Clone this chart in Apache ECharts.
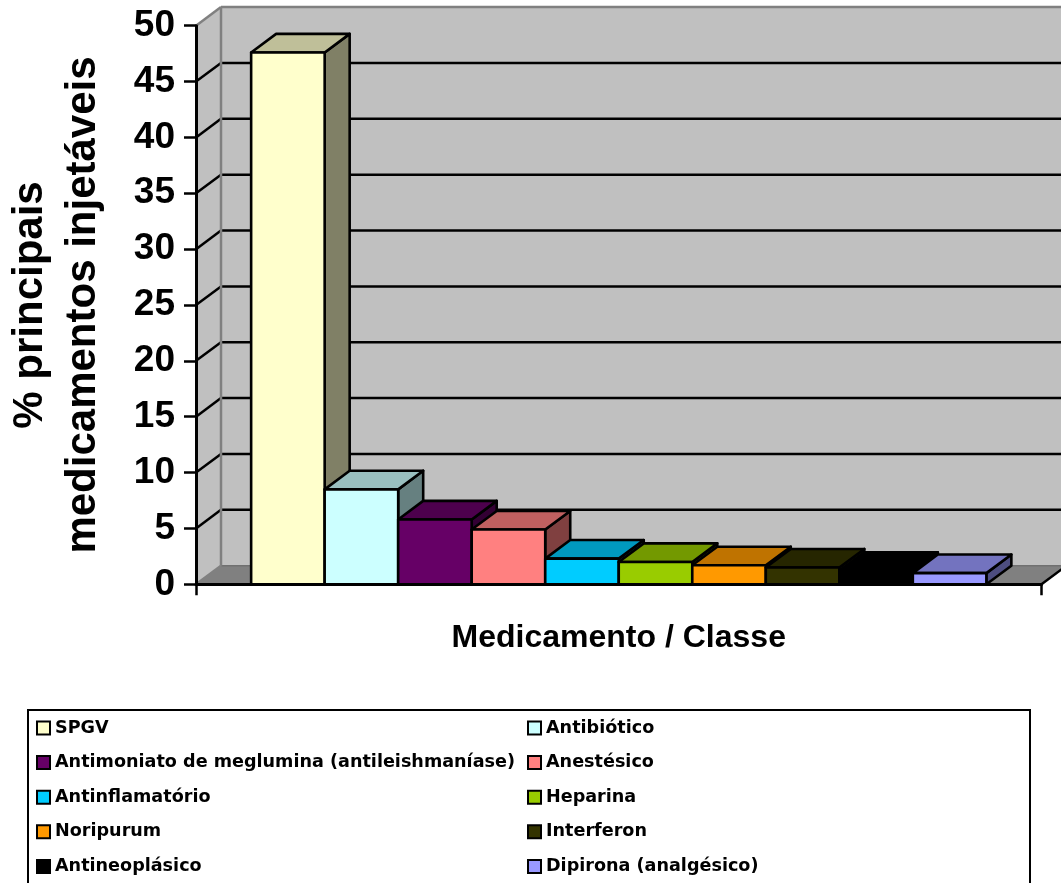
<!DOCTYPE html>
<html>
<head>
<meta charset="utf-8">
<script src="https://cdn.jsdelivr.net/npm/echarts@6/dist/echarts.min.js"></script>
<style>
  html, body { margin: 0; padding: 0; background: #ffffff; }
  #chart { width: 1061px; height: 883px; }
</style>
</head>
<body>
<div id="chart"></div>
<script>
// Injectable medicines by drug / class (% of main injectables)
const names = [
  'SPGV',
  'Antibiótico',
  'Antimoniato de meglumina (antileishmaníase)',
  'Anestésico',
  'Antinflamatório',
  'Heparina',
  'Noripurum',
  'Interferon',
  'Antineoplásico',
  'Dipirona (analgésico)'
];
const values = [47.6, 8.5, 5.8, 4.9, 2.3, 2.0, 1.7, 1.5, 1.2, 1.0];
const colors = ['#FFFFCC', '#CCFFFF', '#660066', '#FF8080', '#00CCFF',
                '#99CC00', '#FF9900', '#333300', '#000000', '#9999FF'];
const yTicks = [0, 5, 10, 15, 20, 25, 30, 35, 40, 45, 50];
const categories = [''];
const legendLeft = [0, 2, 4, 6, 8].map(i => names[i]);
const legendRight = [1, 3, 5, 7, 9].map(i => names[i]);

// 3D look: depth offset of the plot box in pixels, and gap between bar cluster and axis ends
const DEPTH = [25, -18.6];
const GAP = 1.5;
const FONT = '"Liberation Sans", Arial, sans-serif';

function shade(hex, k) {
  const n = parseInt(hex.slice(1), 16);
  const r = Math.round(((n >> 16) & 255) * k);
  const g = Math.round(((n >> 8) & 255) * k);
  const b = Math.round((n & 255) * k);
  return 'rgb(' + r + ',' + g + ',' + b + ')';
}

// Walls, floor and gridlines of the 3D box
function renderWalls(params, api) {
  const cs = params.coordSys;
  const [dx, dy] = DEPTH;
  const left = cs.x, right = cs.x + cs.width;
  const yTop = api.coord([0, yTicks[yTicks.length - 1]])[1];
  const yBase = api.coord([0, yTicks[0]])[1];
  const children = [];
  // back wall
  children.push({ type: 'polygon', shape: { points: [[left + dx, yTop + dy], [right + dx, yTop + dy], [right + dx, yBase + dy], [left + dx, yBase + dy]] },
    style: { fill: '#C0C0C0', stroke: null } });
  // side wall
  children.push({ type: 'polygon', shape: { points: [[left, yTop], [left + dx, yTop + dy], [left + dx, yBase + dy], [left, yBase]] },
    style: { fill: '#C0C0C0', stroke: null } });
  // floor
  children.push({ type: 'polygon', shape: { points: [[left, yBase], [left + dx, yBase + dy], [right + dx, yBase + dy], [right, yBase]] },
    style: { fill: '#808080', stroke: null } });
  // gridlines on back wall and side wall
  yTicks.forEach(function (t, k) {
    const y = api.coord([0, t])[1];
    const edge = (k === 0 || k === yTicks.length - 1);
    const col = edge ? '#808080' : '#000000';
    if (k !== 0) {
      children.push({ type: 'line', shape: { x1: left + dx, y1: y + dy, x2: right + dx, y2: y + dy },
        style: { stroke: col, lineWidth: 2.5 } });
    } else {
      children.push({ type: 'line', shape: { x1: left + dx, y1: y + dy, x2: right + dx, y2: y + dy },
        style: { stroke: '#707070', lineWidth: 1.5 } });
    }
    children.push({ type: 'line', shape: { x1: left, y1: y, x2: left + dx, y2: y + dy },
      style: { stroke: col, lineWidth: 2.5 } });
  });
  // back wall left edge
  children.push({ type: 'line', shape: { x1: left + dx, y1: yTop + dy, x2: left + dx, y2: yBase + dy },
    style: { stroke: '#808080', lineWidth: 2.5 } });
  // floor right edge
  children.push({ type: 'line', shape: { x1: right, y1: yBase, x2: right + dx, y2: yBase + dy },
    style: { stroke: '#000000', lineWidth: 2.5 } });
  return { type: 'group', children: children };
}

// One 3D column per series, placed side by side inside the single category band
function barRenderer(idx) {
  return function (params, api) {
    const v = api.value(1);
    const base = api.coord([api.value(0), 0]);
    const top = api.coord([api.value(0), v]);
    const band = api.size([1, 0])[0];
    const w = band / (names.length + GAP);
    const x0 = base[0] - names.length * w / 2 + idx * w;
    const y0 = base[1], yt = top[1];
    const [dx, dy] = DEPTH;
    const c = colors[idx];
    const st = { stroke: '#000000', lineWidth: 2.6, lineJoin: 'round' };
    return {
      type: 'group',
      children: [
        { type: 'polygon', shape: { points: [[x0 + w, yt], [x0 + w + dx, yt + dy], [x0 + w + dx, y0 + dy], [x0 + w, y0]] },
          style: Object.assign({ fill: shade(c, 0.5) }, st) },
        { type: 'polygon', shape: { points: [[x0, yt], [x0 + dx, yt + dy], [x0 + w + dx, yt + dy], [x0 + w, yt]] },
          style: Object.assign({ fill: shade(c, 0.75) }, st) },
        { type: 'rect', shape: { x: x0, y: yt, width: w, height: y0 - yt },
          style: Object.assign({ fill: c }, st) }
      ]
    };
  };
}

const series = [{
  type: 'custom',
  name: '_box',
  silent: true,
  clip: false,
  z: 1,
  renderItem: renderWalls,
  encode: { x: 0, y: 1 },
  data: [[0, 0]]
}];
names.forEach(function (n, i) {
  series.push({
    type: 'custom',
    name: n,
    clip: false,
    z: 2,
    itemStyle: { color: colors[i] },
    renderItem: barRenderer(i),
    encode: { x: 0, y: 1 },
    data: [[0, values[i]]]
  });
});

const legendCommon = {
  orient: 'vertical',
  top: 718,
  padding: 0,
  itemGap: 14.6,
  itemWidth: 13,
  itemHeight: 13,
  icon: 'rect',
  selectedMode: false,
  itemStyle: { borderColor: '#000000', borderWidth: 2 },
  textStyle: { fontFamily: '"DejaVu Sans", sans-serif', fontWeight: 'bold', fontSize: 17.6, lineHeight: 20, color: '#000000' }
};

const option = {
  animation: false,
  backgroundColor: '#ffffff',
  grid: { left: 196, top: 25.7, right: 19.5, bottom: 298.7, containLabel: false, outerBoundsMode: 'none' },
  xAxis: {
    type: 'category',
    data: categories,
    z: 10,
    name: 'Medicamento / Classe',
    nameLocation: 'middle',
    nameGap: 38,
    nameTextStyle: { fontFamily: FONT, fontWeight: 'bold', fontSize: 32, lineHeight: 32, color: '#000000' },
    axisLine: { show: true, lineStyle: { color: '#000000', width: 3 } },
    axisTick: { show: true, length: 11, lineStyle: { color: '#000000', width: 2.5 } },
    axisLabel: { show: false },
    splitLine: { show: false }
  },
  yAxis: {
    type: 'value',
    min: 0,
    max: 50,
    interval: 5,
    z: 10,
    name: '% principais\nmedicamentos injetáveis',
    nameLocation: 'middle',
    nameRotate: 90,
    nameGap: 86,
    nameTextStyle: { fontFamily: FONT, fontWeight: 'bold', fontSize: 42, lineHeight: 53, color: '#000000' },
    axisLine: { show: true, lineStyle: { color: '#000000', width: 3 } },
    axisTick: { show: true, length: 12, lineStyle: { color: '#000000', width: 2.5 } },
    axisLabel: { margin: 21, fontFamily: FONT, fontWeight: 'bold', fontSize: 37, color: '#000000' },
    splitLine: { show: false }
  },
  legend: [
    Object.assign({ left: 36, data: legendLeft }, legendCommon),
    Object.assign({ left: 527, data: legendRight }, legendCommon)
  ],
  graphic: [{
    type: 'rect',
    silent: true,
    shape: { x: 28, y: 710, width: 1002, height: 200 },
    style: { fill: null, stroke: '#000000', lineWidth: 2 }
  }],
  series: series
};

const chart = echarts.init(document.getElementById('chart'), null, { renderer: 'canvas' });
chart.setOption(option);
</script>
</body>
</html>
